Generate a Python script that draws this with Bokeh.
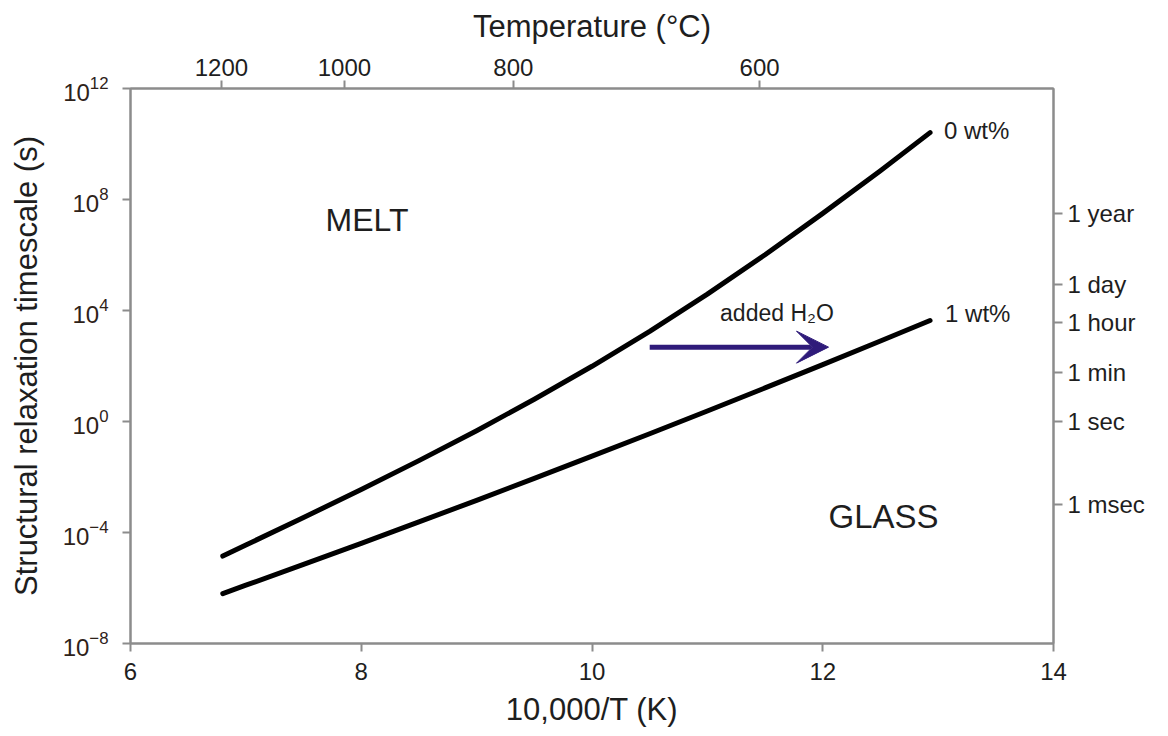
from bokeh.plotting import figure
from bokeh.models import (LinearAxis, LogAxis, FixedTicker, CustomJSTickFormatter,
                          Arrow, VeeHead, Range1d)
from bokeh.core.properties import value
from bokeh.embed import file_html
from bokeh.resources import INLINE

# ---------------- data ----------------
inv_T = [6.8, 7.0, 7.5, 8.0, 8.5, 9.0, 9.5, 10.0, 10.5, 11.0, 11.5, 12.0, 12.5, 12.93]
log_tau_0wt = [-4.85, -4.45, -3.46, -2.45, -1.41, -0.33, 0.80, 1.99, 3.25, 4.59, 6.01, 7.50, 9.04, 10.41]
log_tau_1wt = [-6.20, -5.90, -5.15, -4.39, -3.62, -2.84, -2.05, -1.25, -0.44, 0.38, 1.21, 2.05, 2.90, 3.64]

x_ticks = [6, 8, 10, 12, 14]
y_ticks = [1e-8, 1e-4, 1e0, 1e4, 1e8, 1e12]
temp_c_ticks = [1200, 1000, 800, 600]
time_labels = ["1 msec", "1 sec", "1 min", "1 hour", "1 day", "1 year"]
time_seconds = [1e-3, 1.0, 60.0, 3600.0, 86400.0, 3.1536e7]

arrow_x = [10.5, 12.05]
arrow_y = 10 ** 2.68

FONT = "Liberation Sans"
AXIS_COLOR = "#8c8c8c"
TEXT_COLOR = "#1e1e1e"
ARROW_COLOR = "#2f1b7a"

tau_0 = [10 ** v for v in log_tau_0wt]
tau_1 = [10 ** v for v in log_tau_1wt]

p = figure(width=1160, height=732, y_axis_type="log",
           x_range=Range1d(6, 14), y_range=Range1d(1e-8, 1e12),
           output_backend="svg", toolbar_location=None,
           min_border_left=130, min_border_right=107,
           min_border_top=88, min_border_bottom=89)
p.grid.visible = False
p.outline_line_color = AXIS_COLOR
p.outline_line_width = 2
p.background_fill_color = "white"
p.border_fill_color = "white"

# curves
p.line(inv_T, tau_0, line_color="black", line_width=5, line_cap="round", line_join="round")
p.line(inv_T, tau_1, line_color="black", line_width=5, line_cap="round", line_join="round")

def style_axis(ax, size="24px"):
    ax.axis_line_color = AXIS_COLOR
    ax.axis_line_width = 2
    ax.major_tick_line_color = AXIS_COLOR
    ax.major_tick_line_width = 2
    ax.major_tick_in = 0
    ax.major_tick_out = 8
    ax.minor_tick_line_color = None
    ax.major_label_text_font = FONT
    ax.major_label_text_font_size = size
    ax.major_label_text_color = TEXT_COLOR
    ax.axis_label_text_font = FONT
    ax.axis_label_text_font_style = "normal"
    ax.axis_label_text_font_size = "31px"
    ax.axis_label_text_color = TEXT_COLOR

# bottom axis
xa = p.xaxis[0]
style_axis(xa)
xa.ticker = FixedTicker(ticks=x_ticks)
xa.axis_label = "10,000/T (K)"
xa.major_label_standoff = 11
xa.axis_label_standoff = 9

# left axis
ya = p.yaxis[0]
style_axis(ya)
ya.ticker = FixedTicker(ticks=y_ticks)
ya.axis_label = "Structural relaxation timescale (s)"
ya.axis_label_text_font_size = "31px"
ya.major_label_standoff = 14
ya.axis_label_standoff = 16
ya.major_label_text_color = "#2e2219"

# top axis: temperature in °C
temp_pos = [10000.0 / (t + 273.15) for t in temp_c_ticks]
top = LinearAxis(ticker=FixedTicker(ticks=temp_pos),
                 formatter=CustomJSTickFormatter(args=dict(labels=[str(t) for t in temp_c_ticks]),
                                                 code="return labels[index];"),
                 axis_label="Temperature (°C)")
style_axis(top)
top.major_label_standoff = 5
top.axis_label_standoff = 12
p.add_layout(top, "above")

# right axis: time units
right = LogAxis(ticker=FixedTicker(ticks=time_seconds),
                formatter=CustomJSTickFormatter(args=dict(labels=time_labels),
                                                code="return labels[index];"))
style_axis(right)
right.major_tick_out = 9
right.major_label_standoff = 5
p.add_layout(right, "right")

# annotations
p.text(x=[7.69], y=[10 ** 7.25], text=["MELT"], text_font=value(FONT),
       text_font_size="32px", text_color=TEXT_COLOR, text_baseline="middle", text_align="left")
p.text(x=[12.05], y=[10 ** -3.44], text=["GLASS"], text_font=value(FONT),
       text_font_size="33px", text_color=TEXT_COLOR, text_baseline="middle", text_align="left")
p.text(x=[13.05, 13.06], y=[10 ** 10.5, 10 ** 3.88], text=["0 wt%", "1 wt%"], text_font=value(FONT),
       text_font_size="24px", text_color=TEXT_COLOR, text_baseline="middle", text_align="left")
p.text(x=[11.11], y=[10 ** 3.9], text=["added H₂O"], text_font=value(FONT),
       text_font_size="23px", text_color=TEXT_COLOR, text_baseline="middle", text_align="left")

p.add_layout(Arrow(end=VeeHead(size=32, fill_color=ARROW_COLOR, line_color=ARROW_COLOR),
                   x_start=arrow_x[0], y_start=arrow_y, x_end=arrow_x[1], y_end=arrow_y,
                   line_color=ARROW_COLOR, line_width=5))

open("out.html", "w").write(file_html(p, INLINE))
